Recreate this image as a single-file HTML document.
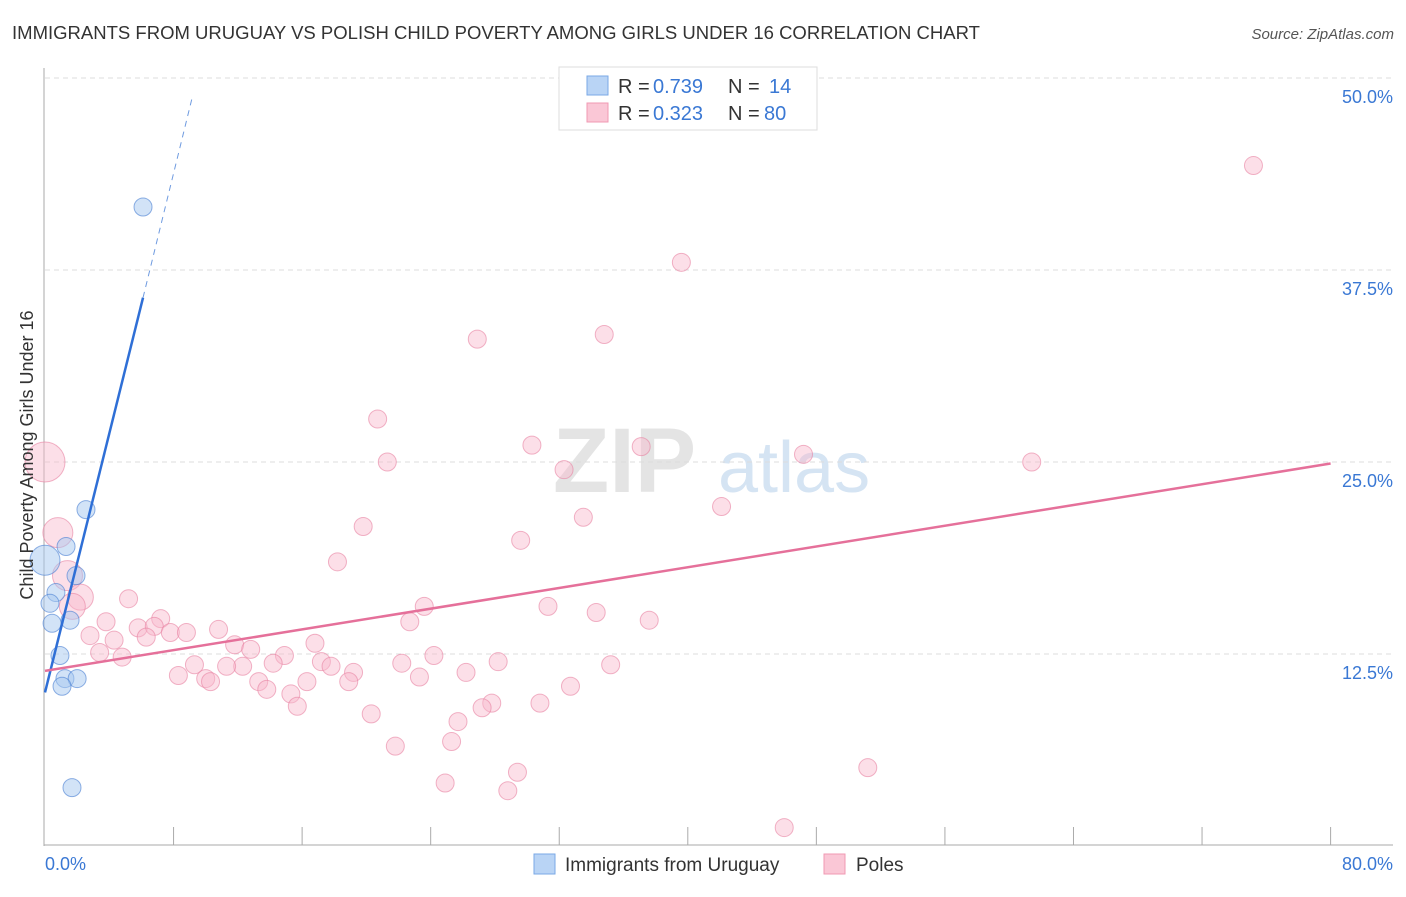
<!DOCTYPE html>
<html><head><meta charset="utf-8"><style>
body{margin:0;background:#fff;font-family:"Liberation Sans",sans-serif}
svg text{font-family:"Liberation Sans",sans-serif}
</style></head><body>
<svg width="1406" height="892" viewBox="0 0 1406 892">
<text x="12" y="39" font-size="18" fill="#333" textLength="968" lengthAdjust="spacingAndGlyphs">IMMIGRANTS FROM URUGUAY VS POLISH CHILD POVERTY AMONG GIRLS UNDER 16 CORRELATION CHART</text>
<text x="1394" y="39" font-size="15" fill="#555" font-style="italic" text-anchor="end">Source: ZipAtlas.com</text>
<g>
<text x="553" y="492" font-size="92" fill="#e4e4e4" font-family="Liberation Serif" font-weight="bold">ZIP</text>
<text x="718" y="492" font-size="72" fill="#d5e4f3">atlas</text>
</g>
<g id="grid"></g>
<g id="axes"></g>
<g id="marks"></g>
<text transform="translate(33,455) rotate(-90)" font-size="18" fill="#333" text-anchor="middle">Child Poverty Among Girls Under 16</text>
<g>
<rect x="559" y="67" width="258" height="63" fill="#fff" stroke="#ddd"/>
<rect x="587" y="76" width="21" height="19" fill="#b9d4f5" stroke="#7aa8e6"/>
<rect x="587" y="103" width="21" height="19" fill="#fac7d6" stroke="#f09ab3"/>
<text x="618" y="93" font-size="20" fill="#333">R =</text>
<text x="653" y="93" font-size="20" fill="#3a78d4">0.739</text>
<text x="728" y="93" font-size="20" fill="#333">N =</text>
<text x="769" y="93" font-size="20" fill="#3a78d4">14</text>
<text x="618" y="120" font-size="20" fill="#333">R =</text>
<text x="653" y="120" font-size="20" fill="#3a78d4">0.323</text>
<text x="728" y="120" font-size="20" fill="#333">N =</text>
<text x="764" y="120" font-size="20" fill="#3a78d4">80</text>
</g>
<g>
<rect x="534" y="854" width="21" height="20" fill="#b9d4f5" stroke="#7aa8e6"/>
<text x="565" y="871" font-size="19" fill="#333">Immigrants from Uruguay</text>
<rect x="824" y="854" width="21" height="20" fill="#fac7d6" stroke="#f09ab3"/>
<text x="856" y="871" font-size="19" fill="#333">Poles</text>
</g>
</svg>
<script>
const yTicks=[12.5,25.0,37.5,50.0];
const xTickVals=[0,8,16,24,32,40,48,56,64,72,80];
const blueX=[6.1,2.55,1.31,1.93,0.68,0.31,0.44,1.56,0.93,1.24,2.0,1.06,1.68,0.0];
const blueY=[41.6,21.9,19.5,17.6,16.5,15.8,14.5,14.7,12.4,10.9,10.9,10.4,3.8,18.6];
const blueR=[9,9,9,9,9,9,9,9,9,9,9,9,9,15];
const pinkX=[75.2,39.6,26.9,34.8,20.7,30.3,37.1,21.3,32.3,47.2,61.4,0,42.1,33.5,19.8,0.8,29.6,18.2,1.4,2.2,1.7,5.2,31.3,23.6,34.3,22.7,37.6,7.2,3.8,5.8,6.8,7.8,8.8,10.8,2.8,4.3,6.3,11.8,12.8,16.8,3.4,4.8,14.9,9.3,8.3,17.2,12.3,14.2,11.3,17.8,19.2,22.2,24.2,28.2,35.2,26.2,10.0,10.3,13.3,13.8,16.3,18.9,23.3,32.7,15.3,15.7,27.8,27.2,30.8,20.3,25.7,25.3,21.8,29.4,24.9,28.8,51.2,46.0];
const pinkY=[44.3,38.0,33.0,33.3,27.8,26.1,26.0,25.0,24.5,25.5,25.0,25.0,22.1,21.4,20.8,20.4,19.9,18.5,17.6,16.2,15.6,16.1,15.6,15.6,15.2,14.6,14.7,14.8,14.6,14.2,14.3,13.9,13.9,14.1,13.7,13.4,13.6,13.1,12.8,13.2,12.6,12.3,12.4,11.8,11.1,12.0,11.7,11.9,11.7,11.7,11.3,11.9,12.4,12.0,11.8,11.3,10.9,10.7,10.7,10.2,10.7,10.7,11.0,10.4,9.9,9.1,9.3,9.0,9.3,8.6,8.1,6.8,6.5,4.8,4.1,3.6,5.1,1.2];
const pinkR=pinkX.map((v,i)=>[11,15,18,19,20].includes(i)?(i===11?20:(i===15||i===18?15:13)):9);
const blueLine=[0,10.0,6.1,35.7,9.2,48.9];
const pinkLine=[0,11.4,80,24.9];
const X=v=>45+v*16.07, Y=v=>846-v*15.36;
const NS='http://www.w3.org/2000/svg';
function mk(t,a,p){const e=document.createElementNS(NS,t);for(const k in a)e.setAttribute(k,a[k]);p.appendChild(e);return e;}
const grid=document.getElementById('grid'),axes=document.getElementById('axes'),marks=document.getElementById('marks');
yTicks.forEach(t=>{
 const l=mk('line',{x1:45,x2:1393,y1:Y(t),y2:Y(t),stroke:'#ddd','stroke-dasharray':'5,4'},grid);
 
 
 const tx=mk('text',{x:1393,y:Y(t)+25,'font-size':18,fill:'#3a78d4','text-anchor':'end'},axes);
 tx.textContent=t.toFixed(1)+'%';
 
 
});
const ya=mk('line',{x1:44,x2:44,y1:68,y2:846,stroke:'#aaa'},axes);


const xa=mk('line',{x1:44,x2:1393,y1:845,y2:845,stroke:'#aaa'},axes);


xTickVals.slice(1).forEach(t=>{
 const l=mk('line',{x1:X(t),x2:X(t),y1:827,y2:845,stroke:'#aaa'},axes);
 
 
});
[[0,'start'],[80,'end']].forEach(([t,a])=>{
 const tx=mk('text',{x:t===80?1393:X(t),y:870,'font-size':18,fill:'#3a78d4','text-anchor':a},axes);
 tx.textContent=t.toFixed(1)+'%';
 
 
});
pinkX.forEach((v,i)=>{
 const c=mk('circle',{cx:X(v),cy:Y(pinkY[i]),r:pinkR[i],fill:'rgba(248,183,203,0.45)',stroke:'rgba(232,130,162,0.6)','stroke-width':1},marks);
 
 
});
blueX.forEach((v,i)=>{
 const c=mk('circle',{cx:X(v),cy:Y(blueY[i]),r:blueR[i],fill:'rgba(166,199,240,0.5)',stroke:'rgba(70,125,210,0.6)','stroke-width':1},marks);
 
 
});
const bl=mk('line',{x1:X(blueLine[0]),y1:Y(blueLine[1]),x2:X(blueLine[2]),y2:Y(blueLine[3]),stroke:'#2f6fd6','stroke-width':2.5},marks);


const bd=mk('line',{x1:X(blueLine[2]),y1:Y(blueLine[3]),x2:X(blueLine[4]),y2:Y(blueLine[5]),stroke:'#6f9be0','stroke-width':1,'stroke-dasharray':'6,5'},marks);


const pl=mk('line',{x1:X(pinkLine[0]),y1:Y(pinkLine[1]),x2:X(pinkLine[2]),y2:Y(pinkLine[3]),stroke:'#e5709a','stroke-width':2.5},marks);


</script>
</body></html>
